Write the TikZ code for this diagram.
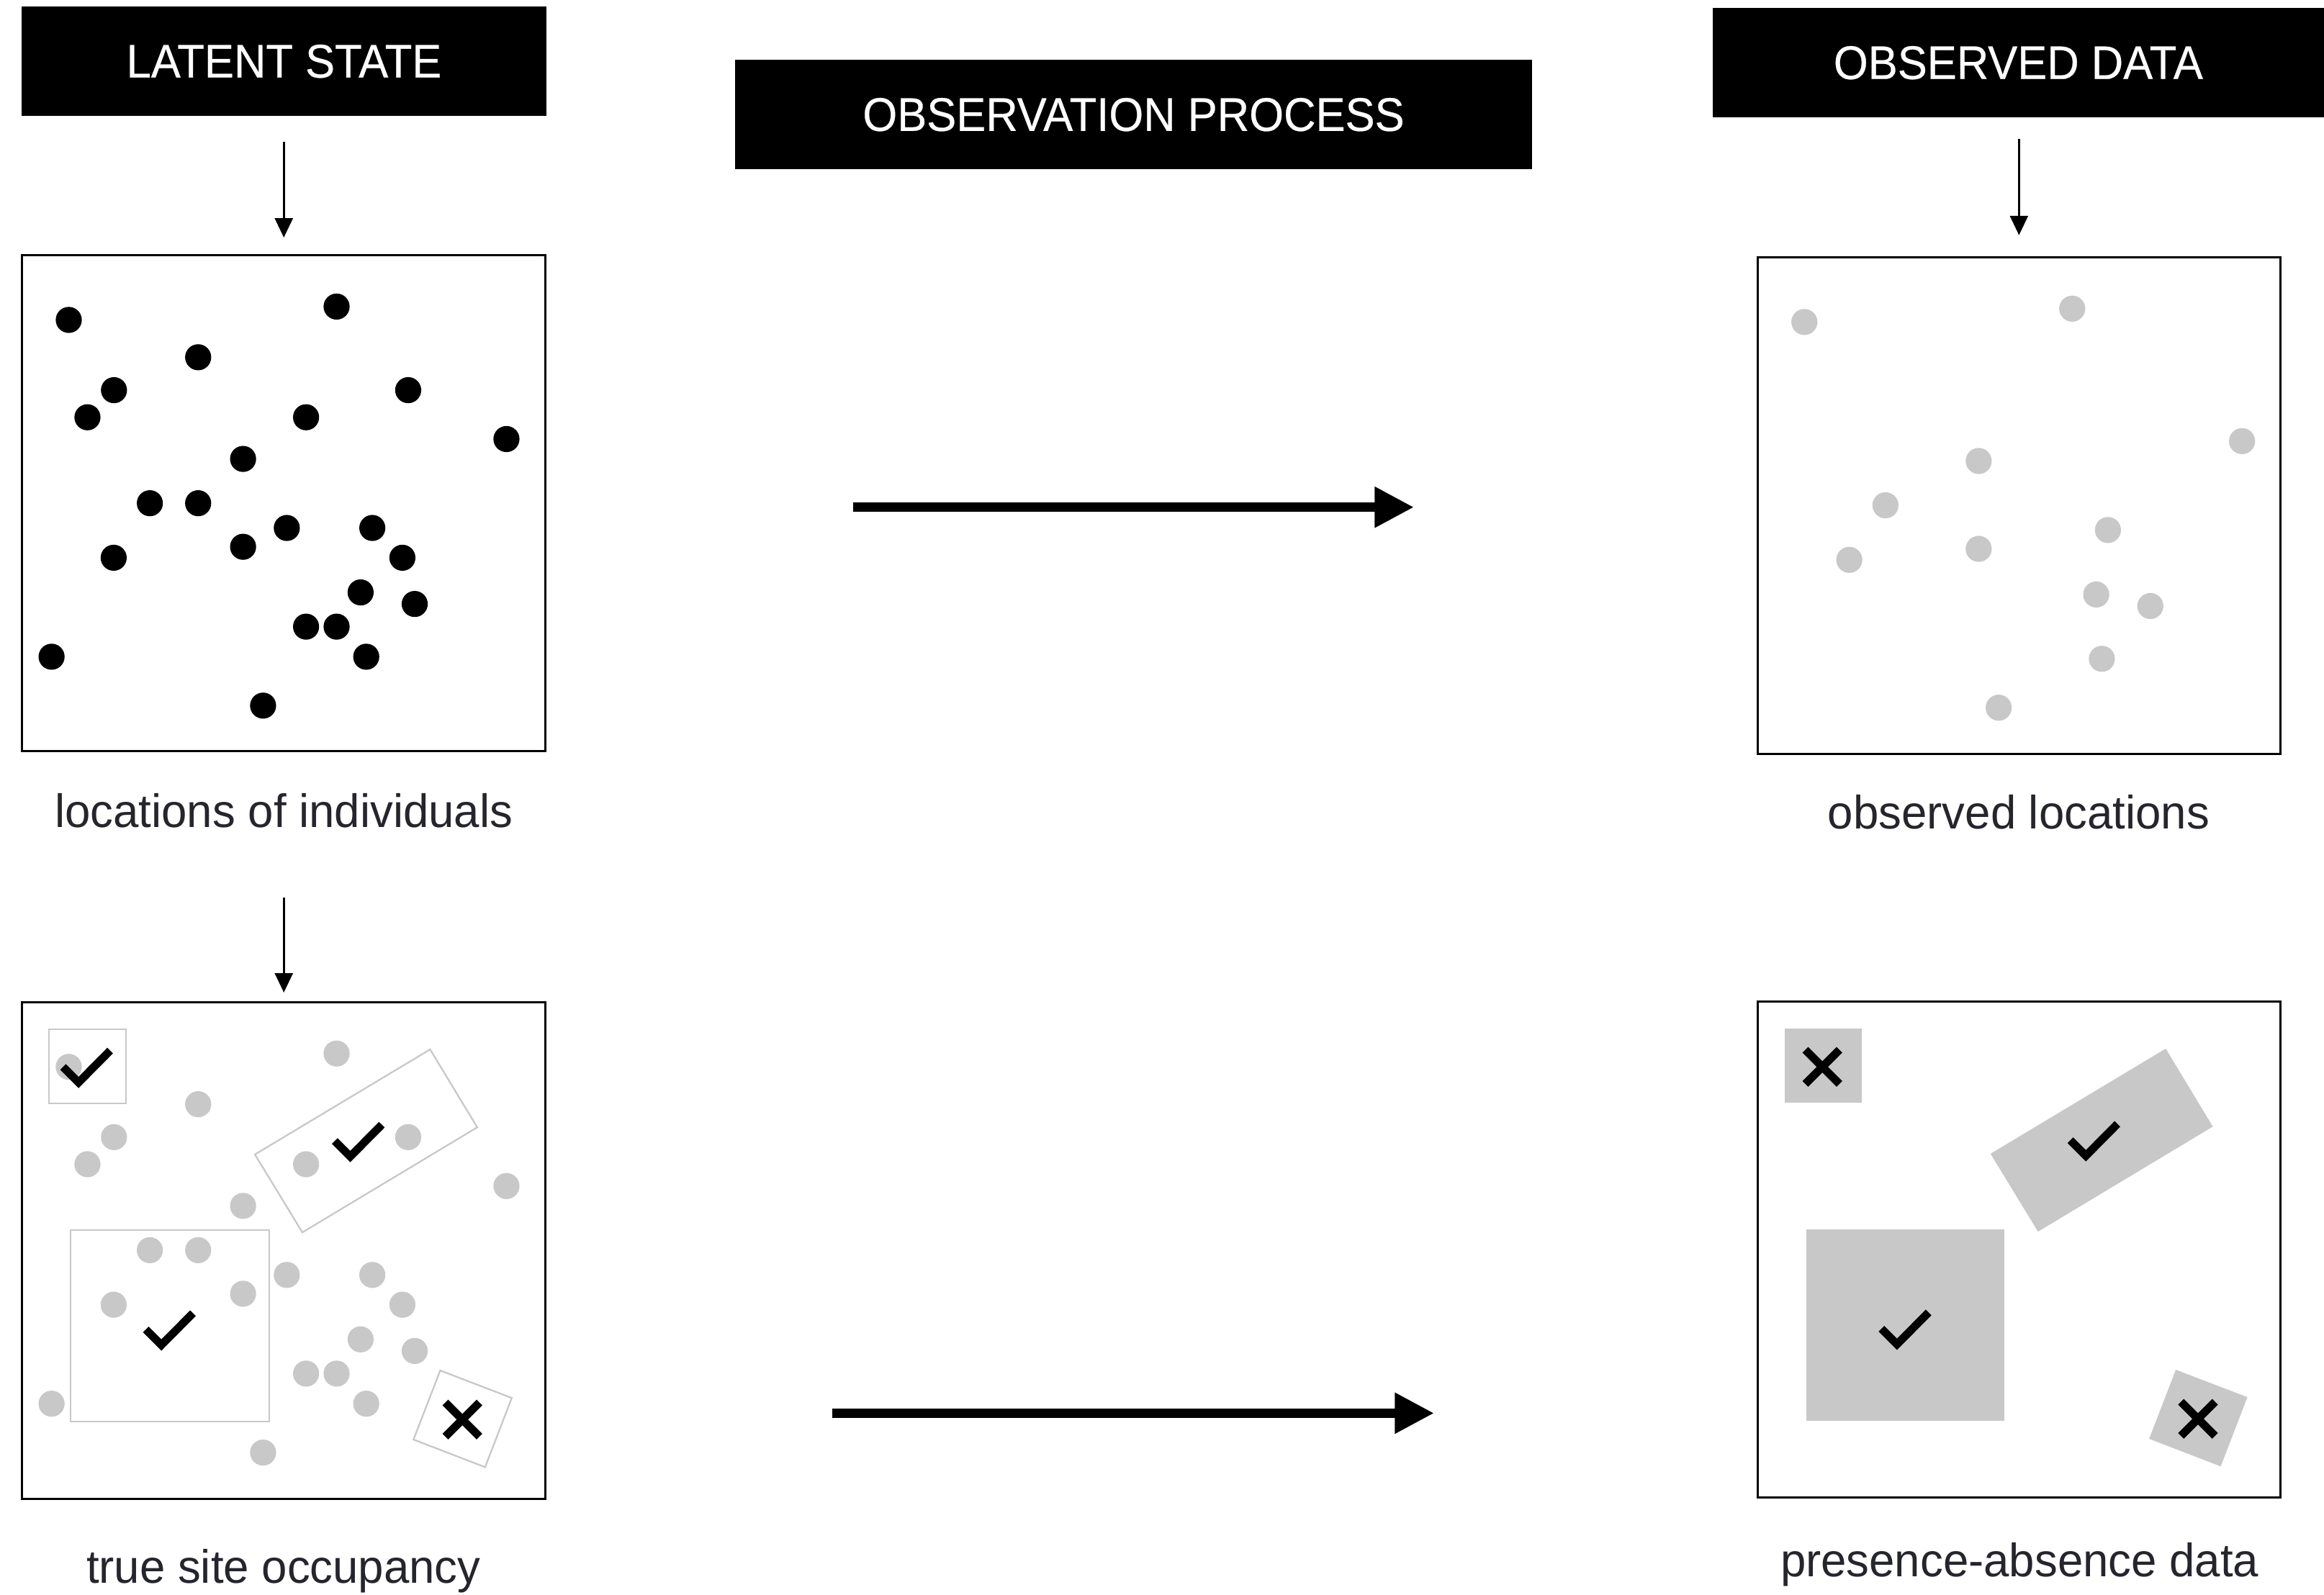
\documentclass[tikz,border=0pt]{standalone}
\usepackage{fontspec}
\setmainfont{Liberation Sans}
\newfontfamily\hdrfont[FakeStretch=0.94,FakeBold=0.4]{Liberation Sans}
\newfontfamily\lblfont[FakeStretch=0.977]{Liberation Sans}
\usetikzlibrary{arrows.meta}
\definecolor{dotgray}{HTML}{C8C8C8}
\definecolor{lblcol}{HTML}{25252D}
\newcommand\mychk[2]{\draw[tickmark,shift={(#1,#2)}] (-16,0) -- (-5.5,10.5) -- (15.8,-11);}
\newcommand\myxmk[2]{\draw[tickmark,shift={(#1,#2)}] (-11.5,-11.5) -- (11.5,11.5) (-11.5,11.5) -- (11.5,-11.5);}
\begin{document}
\begin{tikzpicture}[x=1pt,y=-1pt,
  hdr/.style={fill=black,text=white,inner sep=0pt,outer sep=0pt,font=\hdrfont\fontsize{31.8}{36}\selectfont,text depth=0pt},
  panel/.style={draw=black,line width=1.4pt,inner sep=0pt,outer sep=0pt,fill=white},
  lbl/.style={text=lblcol,inner sep=0pt,anchor=base,font=\lblfont\fontsize{31.6}{38}\selectfont},
  smallarrow/.style={line width=1.6pt,-{Triangle[length=13pt,width=12pt]}},
  bigarrow/.style={line width=6.4pt,-{Triangle[length=26.5pt,width=26pt]}},
  dotb/.style={fill=black},
  dotg/.style={fill=dotgray},
  siteline/.style={draw=dotgray,line width=1.1pt},
  sitefill/.style={fill=dotgray},
  tickmark/.style={line width=5.4pt,draw=black,line cap=butt,line join=miter},
]
\fill[white] (0,0) rectangle (1568,1076.4);
\useasboundingbox (0,0) rectangle (1568,1076.4);

% headers
\node[hdr,minimum width=354pt,minimum height=73.6pt] (hL) at (191.6,41.2) {LATENT STATE};
\node[hdr,minimum width=538pt,minimum height=74pt] (hO) at (764.8,77.2) {OBSERVATION PROCESS};
\node[hdr,minimum width=412.7pt,minimum height=73.7pt] (hD) at (1361.7,42.2) {OBSERVED DATA};

% panels
\node[panel,minimum width=353pt,minimum height=334.6pt] (p1) at (191.5,339.7) {};
\node[panel,minimum width=352.4pt,minimum height=335.2pt] (p2) at (1362.2,341.4) {};
\node[panel,minimum width=353pt,minimum height=335pt] (p3) at (191.5,844) {};
\node[panel,minimum width=352.4pt,minimum height=334.5pt] (p4) at (1362.2,843.25) {};

% latent locations
\begin{scope}[shift={(15,172.4)}]
\foreach \a/\b in {31.4/43.5, 212.1/34.5, 118.7/68.7, 61.9/90.9, 44.0/109.2, 260.4/90.9,
  191.5/109.2, 326.7/123.9, 149.0/137.3, 86.1/167.2, 118.7/167.2, 178.5/183.9,
  236.2/183.9, 149.0/196.6, 61.7/204.0, 256.5/204.0, 228.3/227.4, 264.8/235.2,
  191.5/250.5, 212.1/250.5, 19.8/270.8, 232.1/270.8, 162.5/303.8}
  {\fill[dotb] (\a,\b) circle[radius=8.8pt];}
\end{scope}

% observed locations
\begin{scope}[shift={(1186,173.8)}]
\foreach \a/\b in {31.4/43.5, 212.1/34.5, 326.7/123.9, 149.0/137.3, 86.1/167.2,
  236.2/183.9, 149.0/196.6, 61.7/204.0, 228.3/227.4, 264.8/235.2,
  232.1/270.8, 162.5/303.8}
  {\fill[dotg] (\a,\b) circle[radius=8.8pt];}
\end{scope}

% true site occupancy
\begin{scope}[shift={(15,676.5)}]
\foreach \a/\b in {31.4/43.5, 212.1/34.5, 118.7/68.7, 61.9/90.9, 44.0/109.2, 260.4/90.9,
  191.5/109.2, 326.7/123.9, 149.0/137.3, 86.1/167.2, 118.7/167.2, 178.5/183.9,
  236.2/183.9, 149.0/196.6, 61.7/204.0, 256.5/204.0, 228.3/227.4, 264.8/235.2,
  191.5/250.5, 212.1/250.5, 19.8/270.8, 232.1/270.8, 162.5/303.8}
  {\fill[dotg] (\a,\b) circle[radius=8.8pt];}
\draw[siteline] (18,18) rectangle (70,68);
\draw[siteline] (157,102.6) -- (275.2,31.7) -- (307,84.3) -- (189,155.2) -- cycle;
\draw[siteline] (32.7,153.5) rectangle (166.5,283);
\draw[siteline] (282,248.4) -- (330.3,266.9) -- (312.3,313.6) -- (264,295) -- cycle;
\mychk{43.5}{43.5}
\mychk{226.8}{93.5}
\mychk{99.4}{220.7}
\myxmk{297}{281.5}
\end{scope}

% presence-absence data
\begin{scope}[shift={(1186,676)}]
\fill[sitefill] (18,18) rectangle (70,68);
\fill[sitefill] (157,102.6) -- (275.2,31.7) -- (307,84.3) -- (189,155.2) -- cycle;
\fill[sitefill] (32.7,153.5) rectangle (166.5,283);
\fill[sitefill] (282,248.4) -- (330.3,266.9) -- (312.3,313.6) -- (264,295) -- cycle;
\myxmk{43.5}{44}
\mychk{226.8}{93.5}
\mychk{99.4}{220.7}
\myxmk{297}{281.5}
\end{scope}

% labels
\node[lbl] (l1) at (191.5,558.6) {locations of individuals};
\node[lbl] (l2) at (1362,559.5) {observed locations};
\node[lbl] (l3) at (191.3,1068.2) {true site occupancy};
\node[lbl] (l4) at (1362.6,1063.8) {presence-absence data};

% small arrows
\draw[smallarrow,shorten <=17.9pt,shorten >=12.1pt] (hL.south -| p1.north) -- (p1.north);
\draw[smallarrow,shorten <=14.9pt,shorten >=15.1pt] (hD.south -| p2.north) -- (p2.north);
\coordinate (m1) at (191.5,605.6);
\draw[smallarrow,shorten >=6.7pt] (m1) -- (p3.north);

% big arrows
\coordinate (b1s) at (575.6,342.3);
\coordinate (b1e) at (954,342.3);
\draw[bigarrow] (b1s) -- (b1e);
\coordinate (b2s) at (561.4,953.7);
\coordinate (b2e) at (967.6,953.7);
\draw[bigarrow] (b2s) -- (b2e);
\end{tikzpicture}
\end{document}
